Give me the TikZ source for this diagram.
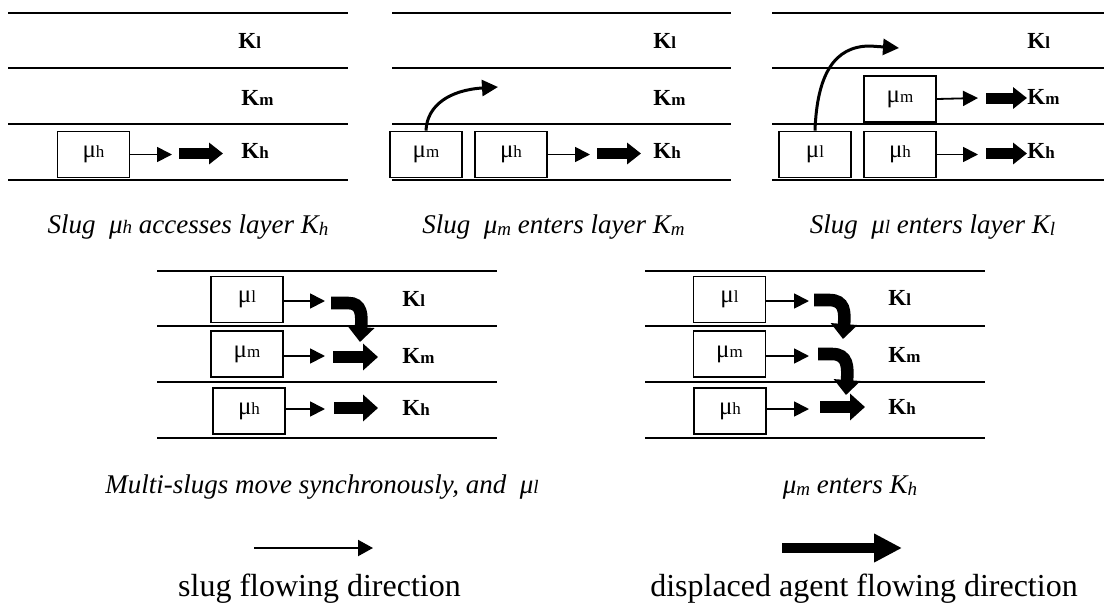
\documentclass[tikz,border=0pt]{standalone}
\usepackage{fontspec}
\setmainfont{Liberation Serif}
\usetikzlibrary{arrows.meta}
\newcommand{\sbs}[1]{{\fontsize{8.5}{8.5}\selectfont #1}}
\newcommand{\sbl}[1]{\raisebox{-1.2pt}{\fontsize{9.5}{9.5}\selectfont #1}}
\newcommand{\sbc}[1]{{\fontsize{9.5}{9.5}\selectfont #1}}
\begin{document}
\begin{tikzpicture}[x=0.5pt,y=-0.5pt,
  layer/.style={line width=0.9pt},
  slug/.style={draw, line width=0.9pt, minimum width=36pt, minimum height=23pt, inner sep=0pt, font=\fontsize{12.5}{12.5}\selectfont},
  flow/.style={line width=0.9pt, -{Triangle[length=7.5pt,width=7.5pt]}},
  disp/.style={line width=5.5pt, -{Triangle[length=7pt,width=10.5pt]}},
  dispb/.style={line width=6.3pt, -{Triangle[length=7.5pt,width=13pt]}},
  jump/.style={line width=1.5pt, -{Triangle[length=8pt,width=8pt]}},
  klab/.style={anchor=base west, inner sep=0pt, font=\fontsize{11.5}{12}\selectfont\bfseries},
  captext/.style={anchor=base, inner sep=0pt, font=\fontsize{13.5}{14}\selectfont\itshape},
  legtext/.style={anchor=base, inner sep=0pt, font=\fontsize{16}{18}\selectfont},
]
\useasboundingbox (0,0) rectangle (1104,606);

% ---------- panel 1 ----------
\foreach \y in {13,68,124,180} \draw[layer] (8,\y) -- (348,\y);
\node[slug] (p1h) at (93.5,154.5) {μ\sbs{h}};
\coordinate (p1ht) at (172,154.5);
\coordinate (p1hs) at (179,153.5);
\coordinate (p1he) at (223,153.5);
\draw[flow] (p1h.east) -- (p1ht);
\draw[disp] (p1hs) -- (p1he);
\node[klab] (p1kl) at (238,48) {K\sbs{l}};
\node[klab] (p1km) at (241,105) {K\sbs{m}};
\node[klab] (p1kh) at (241,158) {K\sbs{h}};

% ---------- panel 2 ----------
\foreach \y in {13,68,124,180} \draw[layer] (392,\y) -- (731,\y);
\node[slug] (p2m) at (426,154.5) {μ\sbs{m}};
\node[slug] (p2h) at (511,154.5) {μ\sbs{h}};
\coordinate (p2ht) at (590,154.5);
\coordinate (p2hs) at (597,153.5);
\coordinate (p2he) at (641,153.5);
\coordinate (p2j) at (498,87);
\draw[flow] (p2h.east) -- (p2ht);
\draw[disp] (p2hs) -- (p2he);
\draw[jump] (p2m.north) .. controls (427,105) and (450,90) .. (p2j);
\node[klab] (p2kl) at (653,48) {K\sbs{l}};
\node[klab] (p2km) at (653,105) {K\sbs{m}};
\node[klab] (p2kh) at (653,158) {K\sbs{h}};

% ---------- panel 3 ----------
\foreach \y in {13,68,124,180} \draw[layer] (772,\y) -- (1104,\y);
\node[slug] (p3l) at (815,154.5) {μ\sbs{l}};
\node[slug] (p3h) at (900,154.5) {μ\sbs{h}};
\node[slug] (p3m) at (900,99) {μ\sbs{m}};
\coordinate (p3mt) at (978,98);
\coordinate (p3ms) at (986,98);
\coordinate (p3me) at (1027,98);
\coordinate (p3ht) at (978,154.5);
\coordinate (p3hs) at (986,153.5);
\coordinate (p3he) at (1027,153.5);
\coordinate (p3c) at (870,46);
\coordinate (p3j) at (899,48);
\draw[flow] (p3m.east) -- (p3mt);
\draw[disp] (p3ms) -- (p3me);
\draw[flow] (p3h.east) -- (p3ht);
\draw[disp] (p3hs) -- (p3he);
\draw[jump] (p3l.north) .. controls (817,75) and (834,46) .. (p3c) -- (p3j);
\node[klab] (p3kl) at (1027,48) {K\sbs{l}};
\node[klab] (p3km) at (1027,104) {K\sbs{m}};
\node[klab] (p3kh) at (1027,158) {K\sbs{h}};

% ---------- captions row 1 ----------
\node[captext] (c1) at (188,233) {Slug\ \ μ\sbc{h} accesses layer K\sbl{h}};
\node[captext] (c2) at (553.5,233) {Slug\ \ μ\sbl{m} enters layer K\sbl{m}};
\node[captext] (c3) at (932.5,233) {Slug\ \ μ\sbc{l} enters layer K\sbl{l}};

% ---------- bottom panel 1 ----------
\foreach \y in {271,326,382,438} \draw[layer] (157,\y) -- (497,\y);
\node[slug] (b1l) at (247,299.5) {μ\sbs{l}};
\node[slug] (b1m) at (247,354) {μ\sbs{m}};
\node[slug] (b1h) at (249,411) {μ\sbs{h}};
\coordinate (b1lt) at (325,301);
\coordinate (b1mt) at (325,356);
\coordinate (b1ht) at (325,409);
\draw[flow] (b1l.east |- b1lt) -- (b1lt);
\draw[flow] (b1m.east |- b1mt) -- (b1mt);
\draw[flow] (b1h.east |- b1ht) -- (b1ht);
\coordinate (b1ls) at (331,303);
\coordinate (b1lb) at (348,303);
\coordinate (b1le) at (360,342);
\draw[dispb] (b1ls) -- (b1lb) .. controls (362,303) and (362,315) .. (b1le);
\coordinate (b1ms) at (333,357);
\coordinate (b1me) at (378,357);
\draw[dispb] (b1ms) -- (b1me);
\coordinate (b1hs) at (334,408);
\coordinate (b1he) at (378,408);
\draw[dispb] (b1hs) -- (b1he);
\node[klab] (b1kl) at (402,306) {K\sbs{l}};
\node[klab] (b1km) at (402,363) {K\sbs{m}};
\node[klab] (b1kh) at (402,415) {K\sbs{h}};

% ---------- bottom panel 2 ----------
\foreach \y in {271,326,382,438} \draw[layer] (645,\y) -- (985,\y);
\node[slug] (b2l) at (729.5,299.5) {μ\sbs{l}};
\node[slug] (b2m) at (729.5,354) {μ\sbs{m}};
\node[slug] (b2h) at (730,411) {μ\sbs{h}};
\coordinate (b2lt) at (809,301);
\coordinate (b2mt) at (809,356);
\coordinate (b2ht) at (809,409);
\draw[flow] (b2l.east |- b2lt) -- (b2lt);
\draw[flow] (b2m.east |- b2mt) -- (b2mt);
\draw[flow] (b2h.east |- b2ht) -- (b2ht);
\coordinate (b2ls) at (814,300);
\coordinate (b2lb) at (829,300);
\coordinate (b2le) at (843,339);
\draw[dispb] (b2ls) -- (b2lb) .. controls (845,300) and (845,312) .. (b2le);
\coordinate (b2ms) at (818,354);
\coordinate (b2mb) at (832,354);
\coordinate (b2me) at (846,395);
\draw[dispb] (b2ms) -- (b2mb) .. controls (848,354) and (848,367) .. (b2me);
\coordinate (b2hs) at (820,407);
\coordinate (b2he) at (865,407);
\draw[dispb] (b2hs) -- (b2he);
\node[klab] (b2kl) at (888,305) {K\sbs{l}};
\node[klab] (b2km) at (888,362) {K\sbs{m}};
\node[klab] (b2kh) at (888,414) {K\sbs{h}};

% ---------- captions row 2 ----------
\node[captext] (c4) at (322,493) {Multi-slugs move synchronously, and\ \ μ\sbc{l}};
\node[captext] (c5) at (850,493) {μ\sbl{m} enters K\sbl{h}};

% ---------- legend ----------
\coordinate (l1s) at (254,548);
\coordinate (l1e) at (373,548);
\draw[line width=1pt, -{Triangle[length=7.5pt,width=8pt]}] (l1s) -- (l1e);
\coordinate (l2s) at (782,548);
\coordinate (l2e) at (902,548);
\draw[line width=5pt, -{Triangle[length=14pt,width=13.5pt]}] (l2s) -- (l2e);
\node[legtext] (t1) at (319.5,596) {slug flowing direction};
\node[legtext] (t2) at (864,596) {displaced agent flowing direction};
\end{tikzpicture}
\end{document}
